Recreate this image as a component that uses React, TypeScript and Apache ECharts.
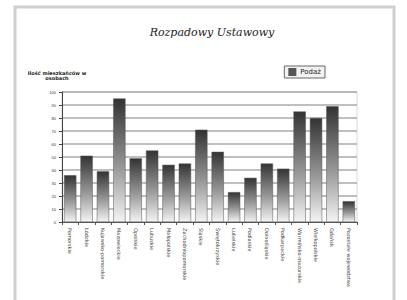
import React, { useEffect, useRef } from "react";
import * as echarts from "echarts";

const titleText = "Rozpadowy Ustawowy";
const seriesName = "Podaż";
const yAxisName = "Ilość mieszkańców w\nosobach";
const categories = [
  "Pomorskie",
  "Łódzkie",
  "Kujawsko-pomorskie",
  "Mazowieckie",
  "Opolskie",
  "Lubuskie",
  "Małopolskie",
  "Zachodniopomorskie",
  "Śląskie",
  "Świętokrzyskie",
  "Lubelskie",
  "Podlaskie",
  "Dolnośląskie",
  "Podkarpackie",
  "Warmińsko-mazurskie",
  "Wielkopolskie",
  "Gdańsk",
  "Pozostałe województwa",
];
const values = [36, 51, 39, 95, 49, 55, 44, 45, 71, 54, 23, 34, 45, 41, 85, 80, 89, 16];
const yMin = 0;
const yMax = 100;
const yStep = 10;

export default function App() {
  const ref = useRef<HTMLDivElement>(null);
  useEffect(() => {
    if (!ref.current) return;
    const chart = echarts.init(ref.current, null, { renderer: "svg" });
    chart.setOption({
      animation: false,
      backgroundColor: "#ffffff",
      title: {
        text: titleText,
        left: 207,
        top: 22,
        textAlign: "center",
        textStyle: {
          fontFamily: "DejaVu Serif",
          fontStyle: "italic",
          fontWeight: "normal",
          fontSize: 11,
          color: "#222",
        },
      },
      legend: {
        right: 82,
        top: 66,
        itemWidth: 6,
        itemHeight: 6,
        itemGap: 2,
        padding: [2, 4],
        borderColor: "#666",
        borderWidth: 1,
        backgroundColor: "#f2f2f2",
        textStyle: { fontSize: 7, color: "#222", fontFamily: "DejaVu Sans" },
        data: [{ name: seriesName, icon: "rect", itemStyle: { color: "#555" } }],
      },
      graphic: [
        {
          type: "rect",
          shape: { x: 15, y: 7, width: 379, height: 300 },
          style: { fill: "none", stroke: "#cfcfcf", lineWidth: 3 },
        },
        {
          type: "text",
          x: 57,
          y: 70,
          style: {
            text: yAxisName,
            fontSize: 5,
            fontWeight: "bold",
            fill: "#222",
            align: "center",
            fontFamily: "DejaVu Sans",
          },
        },
      ],
      grid: {
        left: 62,
        right: 50,
        top: 92,
        bottom: 78,
        show: true,
        borderColor: "#d8d8d8",
        borderWidth: 1,
      },
      xAxis: {
        type: "category",
        data: categories,
        axisLine: { lineStyle: { color: "#555" } },
        axisTick: { show: true, alignWithLabel: false, length: 3, lineStyle: { color: "#555" } },
        axisLabel: {
          rotate: -90,
          interval: 0,
          fontSize: 5,
          color: "#444",
          margin: 6,
          fontFamily: "DejaVu Sans",
        },
      },
      yAxis: {
        type: "value",
        min: yMin,
        max: yMax,
        interval: yStep,
        axisLine: { show: true, lineStyle: { color: "#444" } },
        axisTick: { show: true, length: 3, lineStyle: { color: "#444" } },
        axisLabel: { fontSize: 4, color: "#333", margin: 6 },
        splitLine: { show: true, lineStyle: { color: "#aaaaaa", width: 1.5 } },
      },
      series: [
        {
          name: seriesName,
          type: "bar",
          data: values,
          barCategoryGap: "25%",
          itemStyle: {
            borderColor: "#555",
            borderWidth: 0.5,
            color: new echarts.graphic.LinearGradient(0, 0, 0, 1, [
              { offset: 0, color: "#333333" },
              { offset: 0.6, color: "#a0a0a0" },
              { offset: 1, color: "#f4f4f4" },
            ]),
          },
        },
      ],
    });
    return () => chart.dispose();
  }, []);
  return (
    <div
      ref={ref}
      style={{ position: "absolute", left: 0, top: 0, width: 407, height: 300 }}
    />
  );
}
